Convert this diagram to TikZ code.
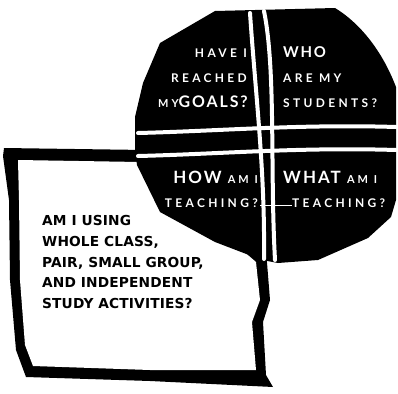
\documentclass[tikz,border=0pt]{standalone}
\usepackage{fontspec}
\setmainfont{Lato}
\newfontfamily\octfont{Lato}[LetterSpace=28]
\newfontfamily\octbig{Lato}[LetterSpace=12]
\newfontfamily\boxfont{DejaVu Sans}[LetterSpace=1]
\begin{document}
\begin{tikzpicture}[x=1bp,y=-1bp,
  boxtext/.style={font=\boxfont\bfseries\fontsize{13.8}{16}\selectfont, anchor=base west, inner sep=0pt},
  wlarge/.style={text=white, font=\octbig\bfseries\fontsize{15}{17}\selectfont, inner sep=0pt},
  wsmall/.style={text=white, font=\octfont\bfseries\fontsize{12}{13}\selectfont, inner sep=0pt},
  crossline/.style={draw=white, line width=4bp, line cap=round},
  thinwhite/.style={draw=white, line width=0.8bp}]
\useasboundingbox (0,0) rectangle (398,394);
% box
\fill[black] (4,148) -- (146,150) -- (266,250) -- (270,300) -- (263,322) -- (266,375) -- (273,387)
  -- (150,381) -- (26,377) -- (16,350) -- (10,280) -- (9,200) -- (3,156) -- cycle;
\fill[white] (18,160) -- (140,162) -- (256,262) -- (260,300) -- (252,322) -- (256,370)
  -- (150,370) -- (33,366) -- (25,345) -- (20,280) -- (19,200) -- cycle;
% octagon
\fill[black] (215,11) -- (335,8) .. controls (355,20) and (380,45) .. (396,87)
  -- (396,200) -- (391,217) -- (368,238) -- (318,260) -- (278,263) -- (262,260)
  -- (215,242) -- (160,212) -- (137,165) -- (135,150) -- (135,117) -- (143,83)
  -- (160,43) -- cycle;
% cross lines
\coordinate (h1a) at (138,133); \coordinate (h1b) at (396,127);
\coordinate (h2a) at (138,156); \coordinate (h2b) at (396,150);
\coordinate (v1a) at (250,13); \coordinate (v1b) at (264,259);
\coordinate (v2a) at (264,11); \coordinate (v2b) at (275,260);
\draw[crossline] (h1a) .. controls (220,131) and (300,124) .. (h1b);
\draw[crossline] (h2a) .. controls (220,154) and (300,147) .. (h2b);
\draw[crossline] (v1a) .. controls (256,100) and (265,170) .. (v1b);
\draw[crossline] (v2a) .. controls (276,70) and (270,170) .. (v2b);
% octagon texts
\node[wsmall, anchor=base east] (t1) at (247,57) {HAVE I};
\node[wsmall, anchor=base east] (t2) at (247,82) {REACHED};
\node[anchor=base east, inner sep=0pt, text=white] (t3) at (248,107) {{\octfont\bfseries\fontsize{11}{12}\selectfont MY}{\octbig\bfseries\fontsize{16}{17}\selectfont GOALS?}};
\node[wlarge, anchor=base west] (t4) at (283,57) {WHO};
\node[wsmall, anchor=base west] (t5) at (283,82) {ARE MY};
\node[wsmall, anchor=base west] (t6) at (283,107) {STUDENTS?};
\node[anchor=base east, inner sep=0pt, text=white] (t7) at (258,183) {{\octbig\bfseries\fontsize{17}{18}\selectfont HOW }{\octfont\bfseries\fontsize{11}{12}\selectfont AM I}};
\node[wsmall, anchor=base east] (t8) at (258,207) {TEACHING?};
\node[anchor=base west, inner sep=0pt, text=white] (t9) at (283,183) {{\octbig\bfseries\fontsize{17}{18}\selectfont WHAT }{\octfont\bfseries\fontsize{11}{12}\selectfont AM I}};
\node[wsmall, anchor=base west] (t10) at (292,207) {TEACHING?};
\draw[thinwhite] (t8.east) ++(2bp,-3bp) coordinate (ta) -- (t10.west |- ta);
% box text
\node[boxtext] (b1) at (42,225) {AM I USING};
\node[boxtext] (b2) at (42,246) {WHOLE CLASS,};
\node[boxtext] (b3) at (42,267) {PAIR, SMALL GROUP,};
\node[boxtext] (b4) at (42,287) {AND INDEPENDENT};
\node[boxtext] (b5) at (42,308) {STUDY ACTIVITIES?};
\end{tikzpicture}
\end{document}
